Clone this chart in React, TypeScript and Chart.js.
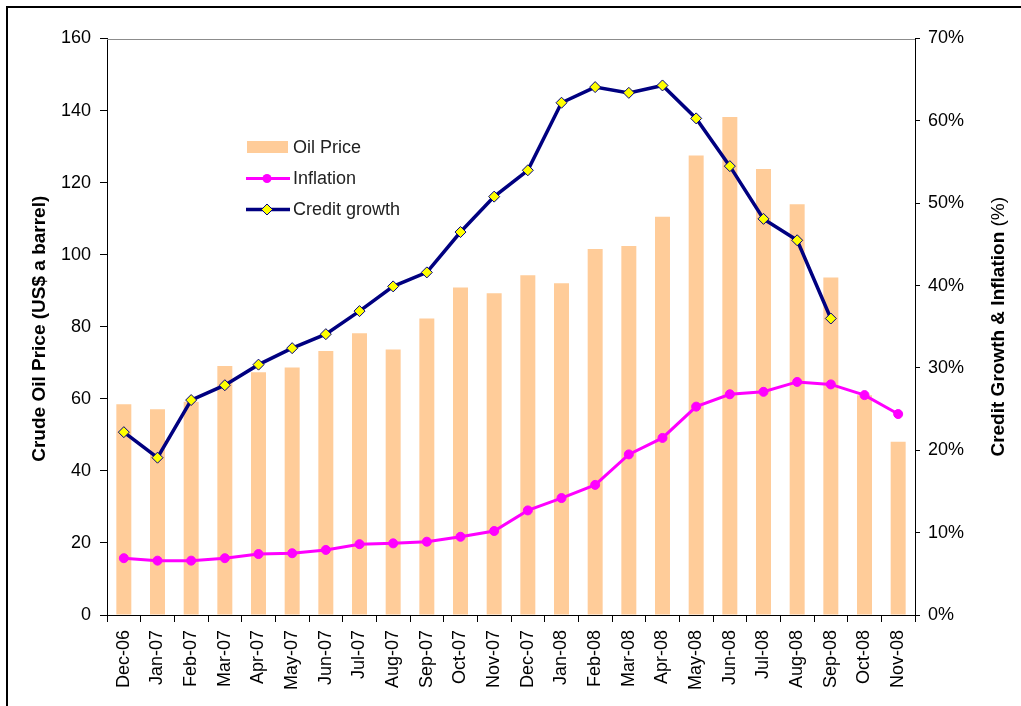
import React, { useEffect, useRef } from "react";
import { Chart, registerables } from "chart.js";

Chart.register(...registerables);

const months = [
  "Dec-06", "Jan-07", "Feb-07", "Mar-07", "Apr-07", "May-07", "Jun-07", "Jul-07",
  "Aug-07", "Sep-07", "Oct-07", "Nov-07", "Dec-07", "Jan-08", "Feb-08", "Mar-08",
  "Apr-08", "May-08", "Jun-08", "Jul-08", "Aug-08", "Sep-08", "Oct-08", "Nov-08",
];

const oilPrice = [
  58.5, 57.1, 59.2, 69.1, 67.4, 68.7, 73.3, 78.2, 73.7, 82.3, 90.9, 89.3,
  94.3, 92.1, 101.6, 102.4, 110.5, 127.5, 138.2, 123.8, 114.0, 93.7, 61.0, 48.1,
];

const inflation = [
  6.9, 6.6, 6.6, 6.9, 7.4, 7.5, 7.9, 8.6, 8.7, 8.9, 9.5, 10.2,
  12.7, 14.2, 15.8, 19.5, 21.5, 25.3, 26.8, 27.1, 28.3, 28.0, 26.7, 24.4,
];

const creditGrowth: (number | null)[] = [
  22.2, 19.1, 26.1, 27.9, 30.4, 32.4, 34.1, 36.9, 39.9, 41.6, 46.5, 50.8,
  54.0, 62.2, 64.1, 63.4, 64.3, 60.3, 54.5, 48.1, 45.5, 36.0, null, null,
];

const leftAxisRange = [0, 160, 20];
const rightAxisRange = [0, 70, 10];

const seriesNames = ["Oil Price", "Inflation", "Credit growth"];
const leftTitle = "Crude Oil Price (US$ a barrel)";
const rightTitleBold = "Credit Growth & Inflation ";
const rightTitleNormal = "(%)";

const FONT = "'Liberation Sans', Arial, Helvetica, sans-serif";

const decorPlugin = {
  id: "decor",
  beforeDraw(chart: any) {
    const { ctx, width, height } = chart;
    ctx.save();
    ctx.fillStyle = "#ffffff";
    ctx.fillRect(0, 0, width, height);
    ctx.restore();
  },
  afterDraw(chart: any) {
    const { ctx, chartArea } = chart;
    const ca = chartArea;
    ctx.save();

    // plot area top border
    ctx.strokeStyle = "#8c8c8c";
    ctx.lineWidth = 1;
    ctx.beginPath();
    ctx.moveTo(ca.left, Math.round(ca.top) + 0.5);
    ctx.lineTo(ca.right, Math.round(ca.top) + 0.5);
    ctx.stroke();

    // outer frame (top & left visible)
    ctx.strokeStyle = "#000000";
    ctx.lineWidth = 2;
    ctx.beginPath();
    ctx.moveTo(7, chart.height + 5);
    ctx.lineTo(7, 7);
    ctx.lineTo(chart.width + 5, 7);
    ctx.stroke();

    // left axis title
    ctx.fillStyle = "#000000";
    ctx.font = `bold 19px ${FONT}`;
    ctx.textAlign = "center";
    ctx.textBaseline = "middle";
    ctx.save();
    ctx.translate(40, (ca.top + ca.bottom) / 2 + 2);
    ctx.rotate(-Math.PI / 2);
    ctx.fillText(leftTitle, 0, 0);
    ctx.restore();

    // right axis title
    ctx.save();
    ctx.translate(ca.right + 84, (ca.top + ca.bottom) / 2);
    ctx.rotate(-Math.PI / 2);
    ctx.font = `bold 19px ${FONT}`;
    const w1 = ctx.measureText(rightTitleBold).width;
    ctx.font = `19px ${FONT}`;
    const w2 = ctx.measureText(rightTitleNormal).width;
    const start = -(w1 + w2) / 2;
    ctx.textAlign = "left";
    ctx.font = `bold 19px ${FONT}`;
    ctx.fillText(rightTitleBold, start, 0);
    ctx.font = `19px ${FONT}`;
    ctx.fillText(rightTitleNormal, start + w1, 0);
    ctx.restore();

    // legend
    const ds = chart.data.datasets;
    const lx = ca.left + 140;
    const rows = [ca.top + 108.5, ca.top + 140, ca.top + 171];
    ctx.font = `18px ${FONT}`;
    ctx.textAlign = "left";
    ctx.textBaseline = "middle";

    // bar swatch
    ctx.fillStyle = ds[0].backgroundColor;
    ctx.fillRect(lx, rows[0] - 6, 41, 12);
    // inflation swatch
    ctx.strokeStyle = ds[1].borderColor;
    ctx.lineWidth = 3;
    ctx.beginPath();
    ctx.moveTo(lx - 1, rows[1]);
    ctx.lineTo(lx + 43, rows[1]);
    ctx.stroke();
    ctx.fillStyle = ds[1].pointBackgroundColor;
    ctx.beginPath();
    ctx.arc(lx + 20, rows[1], 4.5, 0, Math.PI * 2);
    ctx.fill();
    // credit swatch
    ctx.strokeStyle = ds[2].borderColor;
    ctx.lineWidth = 3.5;
    ctx.beginPath();
    ctx.moveTo(lx - 1, rows[2]);
    ctx.lineTo(lx + 43, rows[2]);
    ctx.stroke();
    ctx.fillStyle = ds[2].pointBackgroundColor;
    ctx.strokeStyle = ds[2].borderColor;
    ctx.lineWidth = 1;
    ctx.beginPath();
    const cx = lx + 20, cy = rows[2], r = 5.5;
    ctx.moveTo(cx, cy - r);
    ctx.lineTo(cx + r, cy);
    ctx.lineTo(cx, cy + r);
    ctx.lineTo(cx - r, cy);
    ctx.closePath();
    ctx.fill();
    ctx.stroke();

    ctx.fillStyle = "#222222";
    seriesNames.forEach((name, i) => {
      ctx.fillText(name, lx + 46, rows[i] + 1);
    });

    ctx.restore();
  },
};

export default function App() {
  const canvasRef = useRef<HTMLCanvasElement | null>(null);

  useEffect(() => {
    if (!canvasRef.current) return;
    const chart = new Chart(canvasRef.current, {
      type: "bar",
      data: {
        labels: months,
        datasets: [
          {
            type: "bar",
            label: seriesNames[0],
            data: oilPrice,
            backgroundColor: "#FFCC99",
            borderWidth: 0,
            yAxisID: "y",
            categoryPercentage: 0.5,
            barPercentage: 0.89,
            order: 3,
          } as any,
          {
            type: "line",
            label: seriesNames[1],
            data: inflation,
            borderColor: "#FF00FF",
            backgroundColor: "#FF00FF",
            pointBackgroundColor: "#FF00FF",
            pointBorderColor: "#FF00FF",
            pointStyle: "circle",
            pointRadius: 4.5,
            pointBorderWidth: 1,
            borderWidth: 3,
            tension: 0,
            yAxisID: "y1",
            order: 2,
          } as any,
          {
            type: "line",
            label: seriesNames[2],
            data: creditGrowth,
            borderColor: "#000080",
            backgroundColor: "#FFFF00",
            pointBackgroundColor: "#FFFF00",
            pointBorderColor: "#000080",
            pointStyle: "rectRot",
            pointRadius: 5.5,
            pointBorderWidth: 1,
            borderWidth: 3.5,
            tension: 0,
            spanGaps: false,
            yAxisID: "y1",
            order: 1,
          } as any,
        ],
      },
      options: {
        responsive: false,
        animation: false,
        layout: { padding: { top: 38.5, left: 0, right: 0, bottom: 0 } },
        plugins: {
          legend: { display: false },
          tooltip: { enabled: false },
          title: { display: false },
        },
        scales: {
          x: {
            offset: true,
            grid: {
              display: true,
              offset: true,
              drawOnChartArea: false,
              drawTicks: true,
              tickLength: 7,
              color: "#000000",
            },
            border: { display: true, color: "#000000", width: 1 },
            ticks: {
              autoSkip: false,
              minRotation: 90,
              maxRotation: 90,
              padding: 8,
              color: "#000000",
              font: { family: FONT, size: 18 },
            },
            afterFit: (scale: any) => {
              scale.height = 91;
            },
          },
          y: {
            position: "left",
            min: leftAxisRange[0],
            max: leftAxisRange[1],
            grid: {
              drawOnChartArea: false,
              drawTicks: true,
              tickLength: 7,
              color: "#000000",
            },
            border: { display: true, color: "#000000", width: 1 },
            ticks: {
              stepSize: leftAxisRange[2],
              padding: 9,
              color: "#000000",
              font: { family: FONT, size: 18 },
            },
            afterFit: (scale: any) => {
              scale.width = 107;
            },
          },
          y1: {
            position: "right",
            min: rightAxisRange[0],
            max: rightAxisRange[1],
            grid: {
              drawOnChartArea: false,
              drawTicks: true,
              tickLength: 5,
              color: "#000000",
            },
            border: { display: true, color: "#000000", width: 1 },
            ticks: {
              stepSize: rightAxisRange[2],
              padding: 8,
              color: "#000000",
              font: { family: FONT, size: 18 },
              callback: (v: any) => `${v}%`,
            },
            afterFit: (scale: any) => {
              scale.width = 106;
            },
          },
        },
      } as any,
      plugins: [decorPlugin],
    });
    return () => chart.destroy();
  }, []);

  return (
    <div style={{ position: "absolute", left: 0, top: 0, width: 1021, height: 706 }}>
      <canvas ref={canvasRef} width={1021} height={706} style={{ display: "block" }} />
    </div>
  );
}
